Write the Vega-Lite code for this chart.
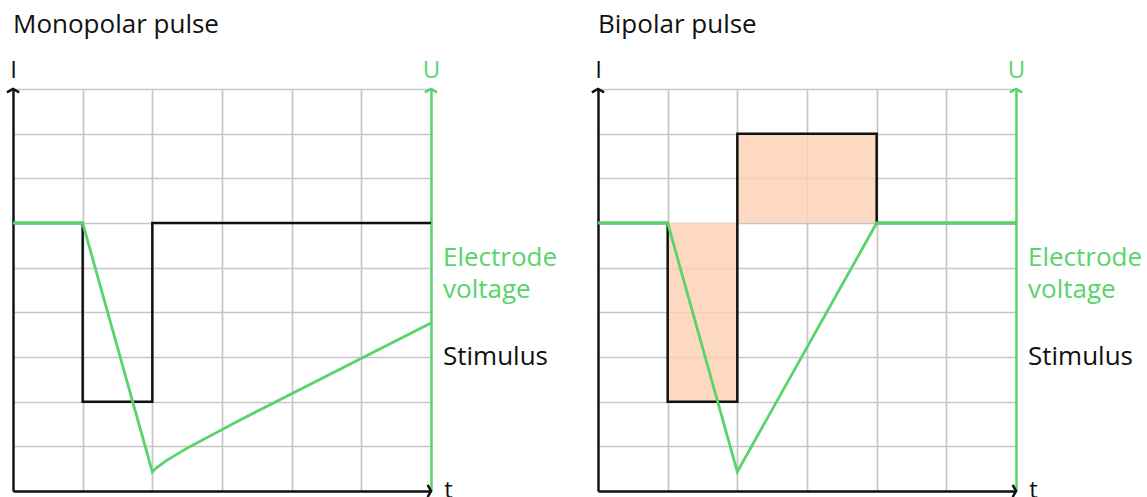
{
  "$schema": "https://vega.github.io/schema/vega-lite/v6.json",
  "padding": {"left": 1, "top": 12, "right": 5, "bottom": 0},
  "bounds": "flush",
  "spacing": 167,
  "config": {
    "view": {"stroke": null},
    "font": "Open Sans",
    "axis": {"grid": true, "gridColor": "#c6c6c6", "gridWidth": 1.7, "ticks": false, "labels": false, "domainWidth": 2.4, "domainColor": "#111111", "titleFont": "Open Sans", "titleFontSize": 24, "titleFontWeight": "normal", "titleAngle": 0, "titleColor": "#111111"},
    "title": {"font": "Open Sans", "fontSize": 26, "fontWeight": "normal", "color": "#111111", "anchor": "start", "frame": "group", "offset": 20}
  },
  "datasets": {
    "stimulus": [
      {"panel": "mono", "i": 1, "t": 0, "v": 6},
      {"panel": "mono", "i": 2, "t": 1, "v": 6},
      {"panel": "mono", "i": 3, "t": 1, "v": 2},
      {"panel": "mono", "i": 4, "t": 2, "v": 2},
      {"panel": "mono", "i": 5, "t": 2, "v": 6},
      {"panel": "mono", "i": 6, "t": 6, "v": 6},
      {"panel": "bi", "i": 1, "t": 0, "v": 6},
      {"panel": "bi", "i": 2, "t": 1, "v": 6},
      {"panel": "bi", "i": 3, "t": 1, "v": 2},
      {"panel": "bi", "i": 4, "t": 2, "v": 2},
      {"panel": "bi", "i": 5, "t": 2, "v": 8},
      {"panel": "bi", "i": 6, "t": 4, "v": 8},
      {"panel": "bi", "i": 7, "t": 4, "v": 6},
      {"panel": "bi", "i": 8, "t": 6, "v": 6}
    ],
    "voltage": [
      {"panel": "mono", "i": 1, "t": 0, "v": 6},
      {"panel": "mono", "i": 2, "t": 1, "v": 6},
      {"panel": "mono", "i": 3, "t": 2, "v": 0.43},
      {"panel": "mono", "i": 4, "t": 2.06, "v": 0.52},
      {"panel": "mono", "i": 5, "t": 2.2, "v": 0.68},
      {"panel": "mono", "i": 6, "t": 2.5, "v": 0.96},
      {"panel": "mono", "i": 7, "t": 3.26, "v": 1.59},
      {"panel": "mono", "i": 8, "t": 6, "v": 3.76},
      {"panel": "bi", "i": 1, "t": 0, "v": 6},
      {"panel": "bi", "i": 2, "t": 1, "v": 6},
      {"panel": "bi", "i": 3, "t": 2, "v": 0.43},
      {"panel": "bi", "i": 4, "t": 4, "v": 6},
      {"panel": "bi", "i": 5, "t": 6, "v": 6}
    ],
    "charge": [
      {"panel": "bi", "t": 1, "t2": 2, "v": 2, "v2": 6},
      {"panel": "bi", "t": 2, "t2": 4, "v": 6, "v2": 8}
    ],
    "arrows": [
      {"axis": "I", "t": 0, "v": 9},
      {"axis": "U", "t": 6, "v": 9},
      {"axis": "t", "t": 6, "v": 0}
    ],
    "labels": [
      {"series": "voltage", "t": 6, "v": 5.22, "text": ["Electrode", "voltage"]},
      {"series": "stimulus", "t": 6, "v": 3.0, "text": ["Stimulus"]}
    ]
  },
  "hconcat": [
    {
      "title": {"text": "Monopolar pulse"},
      "width": 418,
      "height": 402,
      "resolve": {"axis": {"y": "independent"}},
      "layer": [
        {
          "data": {"name": "stimulus"},
          "transform": [{"filter": "datum.panel === 'mono'"}],
          "mark": {"type": "line", "color": "#111111", "strokeWidth": 2.5},
          "encoding": {
            "x": {"field": "t", "type": "quantitative", "scale": {"domain": [0, 6], "nice": false}, "axis": {"values": [0, 1, 2, 3, 4, 5, 6], "title": "t", "titleX": 435, "titleY": 6, "titleAlign": "center", "titleBaseline": "alphabetic"}},
            "y": {"field": "v", "type": "quantitative", "scale": {"domain": [0, 9], "nice": false}, "axis": {"values": [0, 1, 2, 3, 4, 5, 6, 7, 8, 9], "title": "I", "titleX": 0, "titleY": -12, "titleAlign": "center", "titleBaseline": "alphabetic"}},
            "order": {"field": "i", "type": "quantitative"}
          }
        },
        {
          "data": {"name": "voltage"},
          "transform": [{"filter": "datum.panel === 'mono'"}],
          "mark": {"type": "line", "color": "#58d46b", "strokeWidth": 2.8},
          "encoding": {
            "x": {"field": "t", "type": "quantitative"},
            "y": {"field": "v", "type": "quantitative", "axis": null},
            "order": {"field": "i", "type": "quantitative"}
          }
        },
        {
          "data": {"name": "arrows"},
          "mark": {"type": "point", "filled": false, "strokeWidth": 2.5, "size": 150, "opacity": 1},
          "encoding": {
            "x": {"field": "t", "type": "quantitative"},
            "y": {"field": "v", "type": "quantitative", "axis": {"orient": "right", "grid": false, "domainColor": "#58d46b", "title": "U", "titleColor": "#58d46b", "titleX": 0, "titleY": -12, "titleAlign": "center", "titleBaseline": "alphabetic"}},
            "shape": {"field": "axis", "type": "nominal", "scale": {"domain": ["I", "U", "t"], "range": ["M-1,0.55L0,0L1,0.55", "M-1,0.55L0,0L1,0.55", "M-0.55,-1L0,0L-0.55,1"]}, "legend": null},
            "stroke": {"field": "axis", "type": "nominal", "scale": {"domain": ["I", "U", "t"], "range": ["#111111", "#58d46b", "#111111"]}, "legend": null}
          }
        },
        {
          "data": {"name": "labels"},
          "mark": {"type": "text", "align": "left", "baseline": "middle", "dx": 12, "fontSize": 26, "lineHeight": 32, "font": "Open Sans"},
          "encoding": {
            "x": {"field": "t", "type": "quantitative"},
            "y": {"field": "v", "type": "quantitative", "axis": null},
            "text": {"field": "text"},
            "color": {"field": "series", "type": "nominal", "scale": {"domain": ["voltage", "stimulus"], "range": ["#58d46b", "#111111"]}, "legend": null}
          }
        }
      ]
    },
    {
      "title": {"text": "Bipolar pulse"},
      "width": 418,
      "height": 402,
      "resolve": {"axis": {"y": "independent"}},
      "layer": [
        {
          "data": {"name": "charge"},
          "transform": [{"filter": "datum.panel === 'bi'"}],
          "mark": {"type": "rect", "color": "#fbcfb0", "opacity": 0.8},
          "encoding": {
            "x": {"field": "t", "type": "quantitative", "scale": {"domain": [0, 6], "nice": false}, "axis": {"values": [0, 1, 2, 3, 4, 5, 6], "title": "t", "titleX": 435, "titleY": 6, "titleAlign": "center", "titleBaseline": "alphabetic"}},
            "x2": {"field": "t2"},
            "y": {"field": "v", "type": "quantitative", "scale": {"domain": [0, 9], "nice": false}, "axis": {"values": [0, 1, 2, 3, 4, 5, 6, 7, 8, 9], "title": "I", "titleX": 0, "titleY": -12, "titleAlign": "center", "titleBaseline": "alphabetic"}},
            "y2": {"field": "v2"}
          }
        },
        {
          "data": {"name": "stimulus"},
          "transform": [{"filter": "datum.panel === 'bi'"}],
          "mark": {"type": "line", "color": "#111111", "strokeWidth": 2.5},
          "encoding": {
            "x": {"field": "t", "type": "quantitative"},
            "y": {"field": "v", "type": "quantitative", "axis": null},
            "order": {"field": "i", "type": "quantitative"}
          }
        },
        {
          "data": {"name": "voltage"},
          "transform": [{"filter": "datum.panel === 'bi'"}],
          "mark": {"type": "line", "color": "#58d46b", "strokeWidth": 2.8},
          "encoding": {
            "x": {"field": "t", "type": "quantitative"},
            "y": {"field": "v", "type": "quantitative", "axis": null},
            "order": {"field": "i", "type": "quantitative"}
          }
        },
        {
          "data": {"name": "arrows"},
          "mark": {"type": "point", "filled": false, "strokeWidth": 2.5, "size": 150, "opacity": 1},
          "encoding": {
            "x": {"field": "t", "type": "quantitative"},
            "y": {"field": "v", "type": "quantitative", "axis": {"orient": "right", "grid": false, "domainColor": "#58d46b", "title": "U", "titleColor": "#58d46b", "titleX": 0, "titleY": -12, "titleAlign": "center", "titleBaseline": "alphabetic"}},
            "shape": {"field": "axis", "type": "nominal", "scale": {"domain": ["I", "U", "t"], "range": ["M-1,0.55L0,0L1,0.55", "M-1,0.55L0,0L1,0.55", "M-0.55,-1L0,0L-0.55,1"]}, "legend": null},
            "stroke": {"field": "axis", "type": "nominal", "scale": {"domain": ["I", "U", "t"], "range": ["#111111", "#58d46b", "#111111"]}, "legend": null}
          }
        },
        {
          "data": {"name": "labels"},
          "mark": {"type": "text", "align": "left", "baseline": "middle", "dx": 12, "fontSize": 26, "lineHeight": 32, "font": "Open Sans"},
          "encoding": {
            "x": {"field": "t", "type": "quantitative"},
            "y": {"field": "v", "type": "quantitative", "axis": null},
            "text": {"field": "text"},
            "color": {"field": "series", "type": "nominal", "scale": {"domain": ["voltage", "stimulus"], "range": ["#58d46b", "#111111"]}, "legend": null}
          }
        }
      ]
    }
  ]
}
